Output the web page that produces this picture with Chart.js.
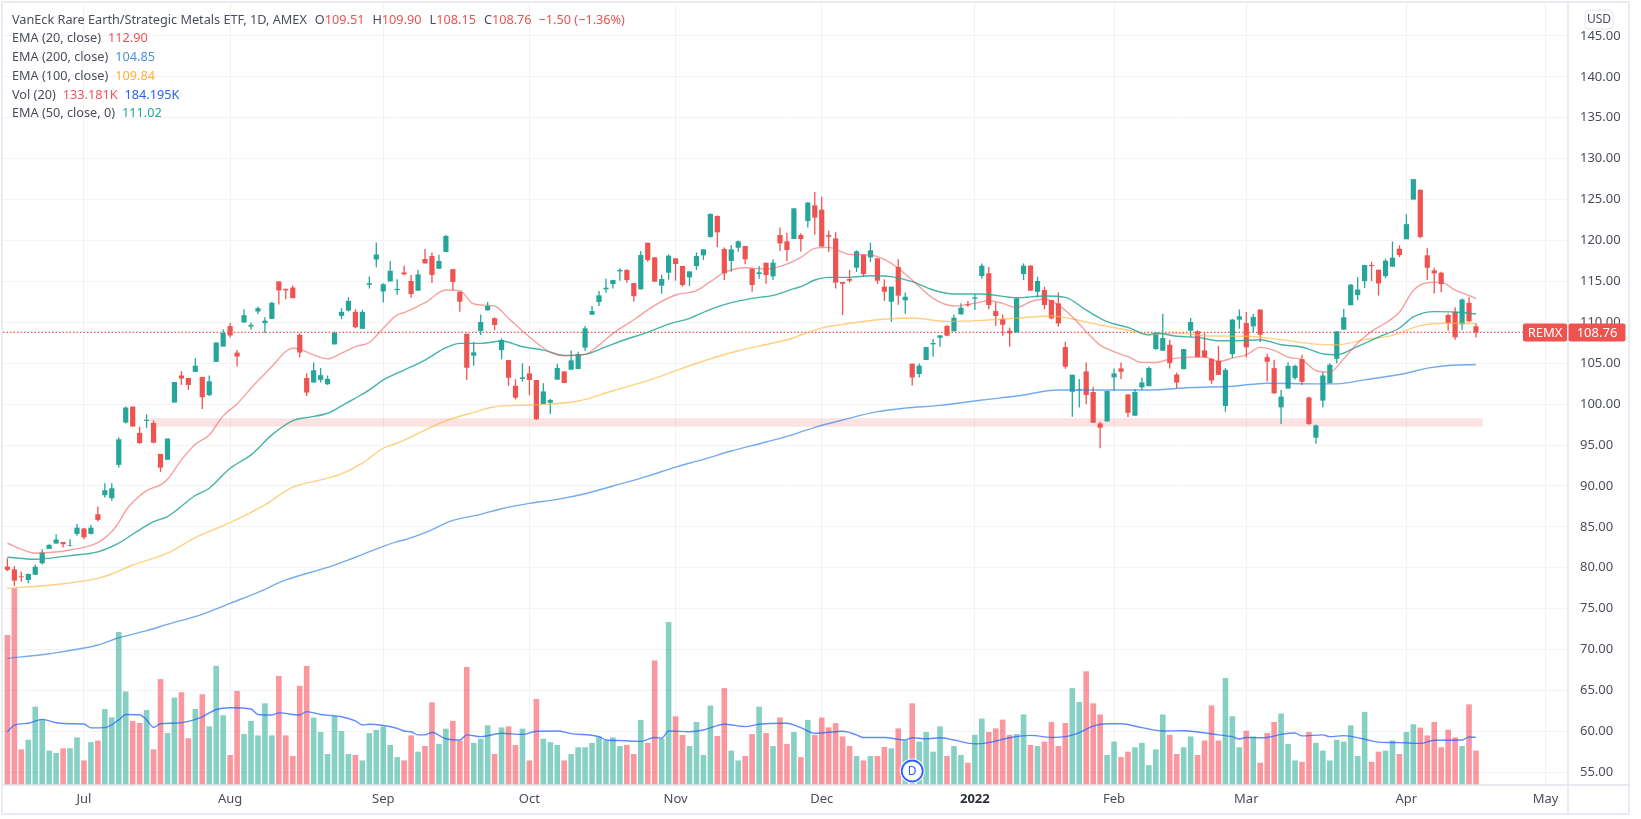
<!DOCTYPE html>
<html>
<head>
<meta charset="utf-8">
<title>REMX</title>
<script src="https://cdn.jsdelivr.net/npm/chart.js@4/dist/chart.umd.js"></script>
<style>
    html, body { margin: 0; padding: 0; background: #fff; }
    #wrap { position: relative; width: 1641px; height: 819px; overflow: hidden; }
    #legend {
        position: absolute; left: 12px; top: 9.5px;
        font: 12.7px/18.8px "Noto Sans", sans-serif; color: #4a4e5a; white-space: pre;
    }
    #legend .val { margin-left: 7px; }
    #legend .ohlc { margin-left: 8px; }
    .red { color: #ef5350; }
    .blue { color: #4a90e2; }
    .yellow { color: #ffb13d; }
    .pink { color: #f7525f; }
    .volblue { color: #2962ff; }
    .green { color: #26a69a; }
</style>
</head>
<body>
<div id="wrap">
    <canvas id="chart"></canvas>
    <div id="legend"><div>VanEck Rare Earth/Strategic Metals ETF, 1D, AMEX<span class="ohlc">O<span class="red">109.51</span></span><span class="ohlc">H<span class="red">109.90</span></span><span class="ohlc">L<span class="red">108.15</span></span><span class="ohlc">C<span class="red">108.76</span></span><span class="val red">−1.50 (−1.36%)</span></div><div>EMA (20, close)<span class="val red">112.90</span></div><div>EMA (200, close)<span class="val blue">104.85</span></div><div>EMA (100, close)<span class="val yellow">109.84</span></div><div>Vol (20)<span class="val pink">133.181K</span><span class="val volblue">184.195K</span></div><div>EMA (50, close, 0)<span class="val green">111.02</span></div></div>
</div>
<script>
// Price candles, one entry per trading day
const opens = [80.15,79.81,78.95,78.5,79.15,80.55,82.31,82.96,83.16,82.68,84.14,84.8,84.14,86.55,88.87,88.5,92.58,97.75,99.7,96.49,97.95,97.7,93.92,93.2,100.2,103.5,103.2,103.95,103.33,101.1,105.17,107.04,109.53,106.3,109.98,109.49,111.32,109.9,110.42,115,114.09,114.25,108.47,103.2,102.64,102.97,102.44,107.3,110.79,111.44,111.28,109.2,114.58,117.68,113.77,115,113.93,116.1,115.05,113.87,117.74,118.1,116.55,118.6,116.5,113.75,108.6,105.92,108.94,111.46,110.5,106.6,105.39,102.25,103.07,103.76,102.95,100.01,100.17,102.99,104,104.21,104.29,106.9,110.93,112.48,114.03,114.68,116.23,116.4,114.8,114.03,119.73,117.94,114.48,116.07,117.82,116.88,115.5,116.88,118.19,120.43,123,118.96,117.5,119.12,119.33,116.56,115.9,117.29,115.62,120.67,119.9,120.18,120.67,122.38,124.3,123.77,120.67,120.26,114.93,115.3,116.68,118.27,117.94,117.82,114.36,112.52,116.76,112.69,104.94,103.68,105.39,107.31,108.12,109.55,108.9,110.97,112.2,112.89,115.66,115.99,111.38,110.4,108.98,108.77,115.9,116.92,113.74,113.95,112.73,112.32,106.98,101.52,101.68,104,101.48,97.65,97.89,103.27,104.37,101.19,98.59,102.05,102.2,106.73,106.53,107.26,103.62,104.28,108.98,108.9,106.57,105.55,105.3,99.77,106.12,110.33,109.92,109.51,111.56,105.75,104.4,99.61,101.9,103.2,105.5,100.8,95.9,100.43,102.56,105.55,109.1,112.09,113.32,115.04,117,116.43,115.65,116.8,119,120.15,125,126.2,118.19,116.35,116.06,110.9,111.27,109.76,112.38,109.51];
const highs = [81.17,80.2,79.5,79.3,80.4,82.27,82.88,84.1,83.16,83.5,85.36,84.87,85.24,87.5,90.33,90.33,95.96,99.7,99.7,97.26,98.77,98,93.92,95.8,102.7,104.03,103.2,105.6,103.33,103.5,107.53,109.16,109.93,106.63,111.6,109.97,111.93,110.63,112.5,115,114.09,114.5,108.67,103.78,105.09,104.43,103.5,108.87,111.73,113.07,111.6,111.52,115.6,119.76,114.78,117.5,115.27,116.92,115.78,116.4,118.96,118.55,118.27,120.67,116.5,113.75,108.6,107.63,110.97,112.48,110.6,108.04,105.39,103.03,104.98,104.66,102.95,102.54,100.62,104.95,104,106.57,106.41,109.55,112,113.83,115.33,115.17,116.6,116.48,114.8,118.72,119.73,117.94,115.86,118.3,117.82,116.88,116.23,118.55,118.92,123.32,123.07,119.16,119.45,120,119.33,116.56,116.88,117.29,117.7,121.6,120.96,123.93,120.9,124.7,125.93,125.36,121.2,121,114.93,116.4,118.8,118.27,119.73,117.82,115.25,114.36,117.7,113.66,104.94,104.98,106.98,107.96,108.41,109.67,110.97,112.32,112.6,113.42,117.2,116.76,112.44,110.97,109.38,112.93,117.2,117,115.58,114.36,112.73,113.66,107.63,103.6,103.07,105.1,102.13,97.85,101.6,104.37,105.1,101.19,101.85,103.27,104.6,108.8,111.03,107.87,103.87,106.73,110.54,109.02,108.7,105.63,107.14,104.4,110.4,111.56,111.27,111.03,111.56,106.16,105.42,101.74,105.13,104.8,106.03,100.92,97.5,103.9,105,108.9,111.64,114.67,115.53,117,117.4,116.43,117.78,119.87,119.41,123.22,127.5,126.2,119.05,116.67,116.18,111.07,111.85,112.9,113.07,109.9];
const lows = [79.6,77.77,78.3,78.1,79.15,80.39,82.31,82.96,82.47,82.6,83.9,83.5,84.06,85.65,88.58,88.2,92.25,97.63,97.26,95.15,97.1,95.2,91.72,93.2,100.15,102.35,101.75,103.95,99.4,101,105.17,107.04,108.14,104.6,109.98,109.08,111.03,108.67,110.42,112.18,112.83,112.95,105.7,101,102.64,102.64,102.35,107.3,110.38,111.32,109.28,109.2,114.13,116.74,112.42,115,113.36,115.74,113,113.87,117.2,114.8,116.55,118.6,113.95,111.3,102.95,104.7,108.45,111.46,109.02,105.5,102.25,100.58,102.74,101.1,98.1,100.01,98.8,102.99,102.58,104.21,104.29,106.49,110.93,112,113.62,114.15,115.09,114.85,112.52,114.03,117.4,114.97,113.5,115.21,115.09,114.36,114.44,116.39,117.62,120.35,119.2,115.17,116.19,118.63,117.09,113.75,115.33,114.72,115.17,118.72,117.5,120.18,118.63,121.58,120.71,119.25,118.6,114.15,110.9,114.85,116.15,115.58,117.37,114.68,112.6,110.08,112.16,111.06,102.29,103.27,105.39,105.8,107.02,108.29,108.9,110.97,111.9,111.5,115.33,111.59,109.55,108.37,107.02,108.77,115.17,113.83,113.05,111.59,110.36,109.47,104.33,98.46,99.6,100,97.73,94.6,97.89,101.64,103.07,98.4,98.59,101.72,102.2,106.65,106.53,104.36,101.98,104.28,108.2,105.75,105.63,102.48,103.58,99.08,105.63,109.23,105.71,108.7,107.6,102.76,101.25,97.57,101.9,102.97,102.35,97.45,95.15,99.6,102.56,105,109.1,112.09,112.7,114.22,115.04,113.28,115.4,116.8,117.98,120.15,125,120.27,115.16,113.52,113.69,108.98,107.88,109.1,110,108.15];
const closes = [79.74,78.42,78.85,79.24,80.13,81.86,82.8,83.45,82.88,82.75,84.9,83.73,84.9,85.85,89.48,89.72,95.7,99.58,97.26,95.23,98.1,95.3,92.25,95.8,102.7,103.13,102.35,104.7,100.85,102.8,107.53,108.7,108.39,105.82,110.87,109.69,111.73,110.2,112.38,113.9,113.9,112.95,106.31,101.42,104.15,103.54,103.09,108.7,111.28,112.62,109.4,111.28,114.78,118.29,114.66,116.3,114.09,115.86,113.46,115.86,117.2,115.78,117.5,120.55,114.93,112.52,104.45,106.33,110.04,112,109.67,107.84,103.23,100.79,103.27,102.95,98.15,101.56,100.5,104.42,102.58,105.35,106.13,109.26,111.38,113.3,114.23,115.17,116.4,115.17,113.2,118.23,117.62,114.97,115.29,118.15,117.13,114.56,116.23,118.1,118.92,123.24,121,115.99,118.92,119.9,117.7,114.56,116.11,115.78,117.29,119.65,118.84,123.93,120.18,124.63,122.79,119.25,120.47,114.85,114.72,115.09,118.68,115.9,118.8,115.09,113.74,114.36,113.26,113.13,103.27,104.7,106.98,107.47,108.41,108.37,110.57,111.79,112.07,113.05,116.92,112.12,110.77,109.71,108.65,112.93,116.92,113.87,115.05,112.12,110.48,109.87,104.58,103.6,101.81,101.11,97.73,97.12,101.6,103.76,103.96,98.95,101.48,102.66,104.42,108.7,108.08,105.01,102.64,106.73,110.04,105.75,105.75,102.89,103.58,104.19,110.33,110.74,106.94,110.66,108.49,105.18,101.33,100.92,104.68,104.68,102.72,97.57,97.4,103.5,104.81,108.9,110.62,114.59,114.01,117,116.88,114.75,117.53,117.9,118.23,122,127.5,120.44,116.67,115.98,114.67,109.92,108.17,112.79,110.13,108.76];

// Volume in thousands of shares
const volumes = [580,761,138,175,303,254,133,124,142,142,184,95,166,172,294,262,592,362,248,240,290,138,410,201,338,359,181,294,351,227,461,270,116,364,197,248,192,316,192,422,192,112,384,461,261,205,120,267,209,120,116,95,201,213,226,155,108,95,192,129,151,320,159,218,248,172,457,163,179,231,120,223,227,155,218,95,333,179,166,155,95,120,146,146,163,187,172,184,151,155,120,252,163,482,179,631,266,194,151,244,116,307,190,375,133,95,112,197,303,201,151,261,159,205,108,252,194,261,223,239,188,151,112,95,112,112,147,142,219,172,316,168,205,129,227,112,151,116,86,194,257,205,219,253,194,197,273,155,151,168,244,151,240,375,321,440,316,273,116,168,108,129,146,163,77,138,273,194,120,146,188,116,172,308,172,414,266,146,210,188,86,201,244,277,159,95,90,205,163,133,95,175,168,231,112,283,90,129,133,172,120,205,235,222,192,244,146,214,184,151,312,133.181];

// Indicator lines, read at the bar numbers listed beside them
const ema20Bars = [0,2,4,6,9,13,15,16,17,18,20,22,23,25,27,29,31,33,35,38,40,41,42,44,46,48,50,52,54,56,57,60,63,65,67,70,72,74,76,78,80,83,85,87,90,93,96,99,101,103,106,109,112,114,116,118,121,124,127,130,133,136,139,141,143,145,147,149,151,153,155,157,159,161,163,165,167,170,172,174,176,178,180,182,184,186,188,190,192,194,196,198,200,202,204,206,208,210,211];
const ema20 = [83,82.27,81.78,81.86,82.18,83.08,84.43,85.53,87,88.01,89.44,90.13,90.82,93.19,95.1,96.24,98.57,100.03,101.95,104.6,106.43,106.84,106.72,106.02,105.53,106.23,107.04,107.53,109.28,110.91,111.18,112.4,113.95,113.87,112.24,111.99,110.49,108.94,107.51,106.33,105.92,106.08,107.22,108.65,110.32,112.07,113.34,113.87,114.97,116.07,116.68,116.52,117.13,117.94,119.04,119.16,118.31,118.23,117.21,115.17,112.93,111.99,112.32,112.64,112.32,111.79,112.52,112.85,112.11,110.69,108.86,107.22,106.41,105.8,105.1,105.09,105.5,105.75,105.75,105.22,105.63,106.03,106.94,106.57,105.75,105.42,104.11,103.91,105.55,107.47,108.9,109.92,111.23,113.89,114.83,114.91,113.93,113.28,112.9];

const ema50Bars = [0,4,9,13,16,18,21,23,27,29,32,35,38,41,43,46,48,50,52,54,56,57,60,63,65,68,71,74,77,80,83,86,89,92,95,98,101,104,107,110,113,114,116,118,121,124,127,130,133,136,140,145,149,152,155,158,161,164,165,168,171,174,177,180,183,186,189,191,194,197,200,202,205,208,211];
const ema50 = [81.29,81.04,81.49,81.94,83,84.1,85.65,86.26,88.83,89.72,92.17,93.8,96.24,97.99,98.36,98.89,99.79,100.73,101.74,102.97,103.78,104.17,105.39,106.9,107.43,107.43,107.71,107.02,106.61,105.96,106.08,107.02,107.96,108.77,109.79,110.49,111.59,112.4,112.93,113.3,114.11,114.36,115.17,115.5,115.5,115.7,115.58,114.97,113.95,113.46,113.46,113.01,113.22,113.05,111.5,110.08,109.38,108.45,108.69,108.29,108.16,107.75,107.75,107.87,107.26,106.98,106.16,106.04,107.06,108.2,109.31,110.66,111.31,111.27,111.02];

const ema100Bars = [0,6,13,15,18,23,27,32,37,41,45,48,51,54,56,63,67,70,75,82,87,92,100,105,110,113,114,117,120,125,130,135,140,145,150,153,157,161,164,168,173,178,183,188,191,195,199,203,207,211];
const ema100 = [77.49,77.86,78.71,79.24,80.34,81.78,83.69,85.53,87.69,89.85,90.74,91.48,92.78,94.61,95.22,97.97,98.99,99.69,99.89,100.38,101.64,102.87,105.27,106.53,107.47,108.12,108.45,109.3,109.75,110.32,110.52,110.12,110.24,110.52,110.77,110.4,109.67,109.06,108.57,108.65,108.33,108.29,107.88,107.34,107.26,107.88,108.41,109.6,109.88,109.84];

const ema200Bars = [0,6,13,16,20,23,28,32,36,40,46,50,56,57,60,64,68,71,75,79,83,87,92,96,100,104,109,113,116,120,125,129,134,140,145,151,156,164,170,176,181,188,191,195,201,204,207,211];
const ema200 = [68.93,69.5,70.56,71.45,72.31,73.09,74.31,75.66,77,78.51,80.05,81.29,83.2,83.39,84.29,85.79,86.53,87.22,87.87,88.36,89.05,89.99,91.21,92.31,93.25,94.27,95.37,96.31,97.16,98.06,99.08,99.52,99.85,100.5,100.99,101.72,101.72,101.72,102.03,102.19,102.56,102.48,102.48,102.97,103.78,104.4,104.72,104.85];

const volMaBars = [0,1,3,5,7,9,11,12,14,16,17,19,20,21,22,24,26,28,30,32,35,36,38,39,42,43,45,48,50,51,52,54,56,57,58,59,60,61,63,65,66,68,71,74,76,79,81,85,86,88,91,93,94,95,98,100,102,103,106,108,112,114,116,118,119,120,122,123,126,129,130,132,134,136,139,141,144,147,150,152,154,156,158,160,163,166,169,174,176,177,178,180,181,183,185,186,189,190,192,195,197,200,203,205,209,210,211];
const volMa = [206,232,239,254,241,237,236,221,222,252,273,272,252,223,237,239,246,264,292,299,294,273,271,279,271,284,273,264,248,232,235,230,219,209,206,194,194,203,179,174,194,187,200,196,208,209,199,187,174,172,169,184,181,209,206,213,230,235,226,235,239,222,200,204,206,208,194,184,184,174,183,179,183,174,159,164,183,192,184,187,203,228,237,237,222,209,210,194,187,178,184,183,184,196,201,190,194,187,191,177,166,164,161,173,174,186,184.195];

// Axis ticks
const priceTicks = [55,60,65,70,75,80,85,90,95,100,105,110,115,120,125,130,135,140,145];
const monthBars = [11,32,54,75,96,117,139,159,178,201,221];
const monthLabels = ['Jul','Aug','Sep','Oct','Nov','Dec','2022','Feb','Mar','Apr','May'];

// Support band drawn across the price pane
const bandBars = [20.5,212];
const bandTop = [98.27,98.27];
const bandBottom = [97.24,97.24];

const lastClose = closes[closes.length - 1];
const priceLineBars = [-0.63,217.8];
const dividendBar = 130;

const UP = '#26a69a';
const DOWN = '#ef5350';
const FONT = '"Noto Sans", sans-serif';
const isDown = closes.map((c, i) => c < opens[i]);

function pairs(bars, values) {
    return bars.map((bar, i) => ({ x: bar, y: values[i] }));
}

function lineSet(bars, values, color, width, order, axis) {
    return {
        type: 'line',
        data: pairs(bars, values),
        borderColor: color,
        borderWidth: width,
        pointRadius: 0,
        cubicInterpolationMode: 'monotone',
        yAxisID: axis || 'y',
        order: order
    };
}

function bandSet(values, order, fill) {
    return {
        type: 'line',
        data: pairs(bandBars, values),
        borderWidth: 0,
        pointRadius: 0,
        backgroundColor: 'rgba(239,83,80,0.16)',
        fill: fill,
        order: order
    };
}

function isYearTick(ctx) {
    return ctx.tick && ctx.tick.value === 139;
}

// Frame, last price tag, dividend badge and currency button
const furniture = {
    id: 'furniture',
    afterDraw(chart) {
        const ctx = chart.ctx;
        const area = chart.chartArea;
        const y = chart.scales.y;
        const x = chart.scales.x;

        ctx.save();
        ctx.strokeStyle = '#e9ecf3';
        ctx.lineWidth = 2;
        ctx.strokeRect(area.left - 1, area.top - 1, 1630 - area.left, 815 - area.top);
        ctx.beginPath();
        ctx.moveTo(area.right, area.top);
        ctx.lineTo(area.right, 815);
        ctx.stroke();
        ctx.strokeStyle = '#dfe2e8';
        ctx.lineWidth = 1.5;
        ctx.beginPath();
        ctx.moveTo(area.left, area.bottom);
        ctx.lineTo(1630, area.bottom);
        ctx.stroke();

        // last price tag
        const tagY = y.getPixelForValue(lastClose);
        ctx.fillStyle = DOWN;
        ctx.beginPath();
        ctx.roundRect(1523, tagY - 9, 44, 18, 2);
        ctx.fill();
        ctx.beginPath();
        ctx.roundRect(1568.5, tagY - 9, 57, 18, 2);
        ctx.fill();
        ctx.fillStyle = '#fff';
        ctx.font = '13px ' + FONT;
        ctx.textBaseline = 'middle';
        ctx.textAlign = 'center';
        ctx.fillText('REMX', 1545, tagY + 0.5);
        ctx.fillText(lastClose.toFixed(2), 1597, tagY + 0.5);

        // dividend badge
        const badgeX = x.getPixelForValue(dividendBar);
        ctx.fillStyle = '#fff';
        ctx.beginPath();
        ctx.arc(badgeX, 771, 12.5, 0, Math.PI * 2);
        ctx.fill();
        ctx.strokeStyle = '#2962ff';
        ctx.lineWidth = 1.8;
        ctx.beginPath();
        ctx.arc(badgeX, 771, 10.5, 0, Math.PI * 2);
        ctx.stroke();
        ctx.fillStyle = '#2962ff';
        ctx.font = '12px ' + FONT;
        ctx.fillText('D', badgeX, 771.5);

        // currency button
        ctx.fillStyle = '#fff';
        ctx.strokeStyle = '#e3e6ec';
        ctx.lineWidth = 1;
        ctx.beginPath();
        ctx.roundRect(1585, 10, 28, 19, 4);
        ctx.fill();
        ctx.stroke();
        ctx.fillStyle = '#4a4e5a';
        ctx.font = '12px ' + FONT;
        ctx.fillText('USD', 1599, 20);
        ctx.restore();
    }
};

const bars = closes.map((c, i) => i);

new Chart(document.getElementById('chart'), {
    type: 'bar',
    data: {
        datasets: [
            lineSet(ema20Bars, ema20, 'rgba(239,83,80,0.55)', 1.4, 1),
            lineSet(ema50Bars, ema50, 'rgba(38,166,154,0.85)', 1.4, 1),
            lineSet(ema100Bars, ema100, 'rgba(255,183,60,0.65)', 1.4, 1),
            lineSet(ema200Bars, ema200, 'rgba(41,128,225,0.65)', 1.4, 1),
            {
                data: bars.map(i => ({ x: i, y: [opens[i], closes[i]] })),
                backgroundColor: isDown.map(d => d ? DOWN : UP),
                barThickness: 5.2,
                order: 2
            },
            {
                data: bars.map(i => ({ x: i, y: [lows[i], highs[i]] })),
                backgroundColor: isDown.map(d => d ? DOWN : UP),
                barThickness: 1.3,
                order: 3
            },
            Object.assign(lineSet(priceLineBars, [lastClose, lastClose], DOWN, 1.2, 4), { borderDash: [1.5, 2] }),
            lineSet(volMaBars, volMa, 'rgba(41,98,255,0.75)', 1.4, 5, 'yVol'),
            bandSet(bandTop, 6, false),
            bandSet(bandBottom, 6, '-1'),
            {
                data: bars.map(i => ({ x: i, y: volumes[i] })),
                backgroundColor: isDown.map(d => d ? 'rgba(247,82,95,0.6)' : 'rgba(34,171,148,0.55)'),
                barThickness: 5.6,
                yAxisID: 'yVol',
                order: 7
            }
        ]
    },
    options: {
        responsive: true,
        maintainAspectRatio: false,
        animation: false,
        events: [],
        layout: { autoPadding: false, padding: { left: 3, top: 3, right: 11, bottom: 4 } },
        datasets: { bar: { grouped: false, inflateAmount: 0 } },
        plugins: { legend: { display: false }, tooltip: { enabled: false } },
        scales: {
            x: {
                type: 'linear',
                min: -0.632,
                max: 224.22,
                offset: false,
                afterFit(scale) { scale.height = 30; },
                afterBuildTicks(scale) { scale.ticks = monthBars.map(value => ({ value })); },
                border: { display: false },
                grid: { color: '#f1f3f6', offset: false, drawTicks: false },
                ticks: {
                    autoSkip: false,
                    maxRotation: 0,
                    padding: 6,
                    color: ctx => (isYearTick(ctx) ? '#2a2e39' : '#4a4e5a'),
                    font: ctx => ({ family: FONT, size: 13, weight: isYearTick(ctx) ? 'bold' : 'normal' }),
                    callback: value => monthLabels[monthBars.indexOf(value)]
                }
            },
            y: {
                position: 'right',
                min: 53.45,
                max: 149.03,
                afterFit(scale) {
                    scale.width = 62;
                    // tick padding is otherwise added above the pane
                    scale.paddingTop = 0;
                    scale.paddingBottom = 0;
                },
                afterBuildTicks(scale) { scale.ticks = priceTicks.map(value => ({ value })); },
                border: { display: false },
                grid: { color: '#f1f3f6', drawTicks: false },
                ticks: {
                    padding: 12,
                    color: '#4a4e5a',
                    font: { family: FONT, size: 13 },
                    callback: value => value.toFixed(2)
                }
            },
            yVol: {
                display: false,
                position: 'right',
                min: 0,
                max: 3026
            }
        }
    },
    plugins: [furniture]
});
</script>
</body>
</html>
